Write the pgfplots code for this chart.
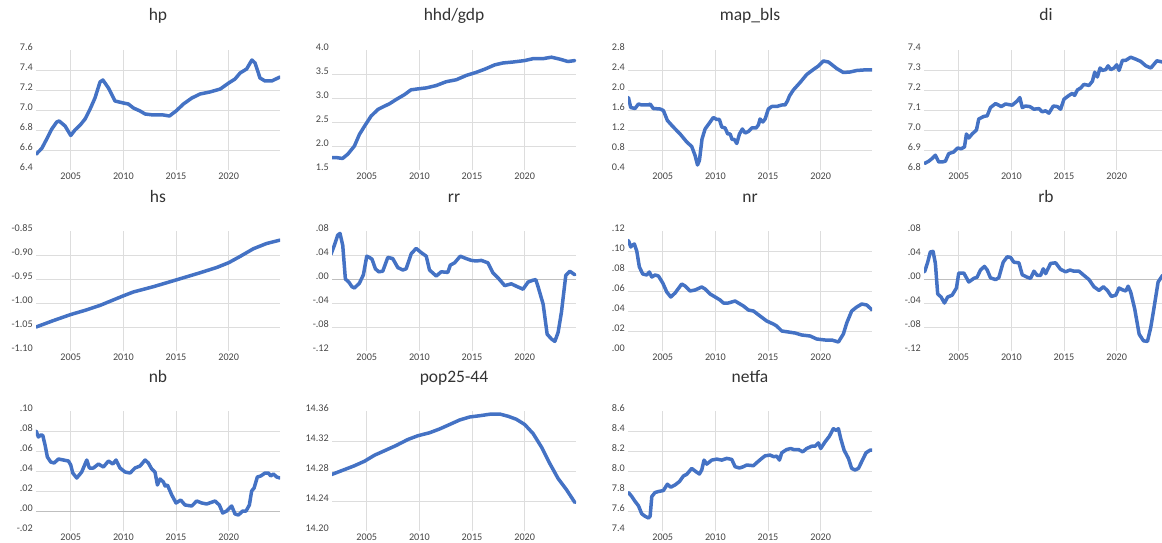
\documentclass[border=0pt]{standalone}
\usepackage{fontspec}
\setmainfont{Carlito}
\usepackage{pgfplots}
\pgfplotsset{compat=1.18}
\definecolor{lineblue}{HTML}{4472C4}
\definecolor{gridgray}{HTML}{DDDDDD}
\definecolor{zerogray}{HTML}{BFBFBF}
\definecolor{txtgray}{HTML}{474747}
\definecolor{titlegray}{HTML}{333333}
\pgfplotsset{
  panel/.style={
    scale only axis, width=244pt, height=120pt,
    xmin=2001.7, xmax=2024.87,
    anchor=north west,
    axis line style={draw=none},
    tick style={draw=none},
    xtick={2005,2010,2015,2020},
    xticklabels={2005,2010,2015,2020},
    xmajorgrids=true, ymajorgrids=false,
    major grid style={draw=gridgray, line width=0.8pt},
    ticklabel style={font=\fontsize{10.2}{12}\selectfont, text=txtgray},
    xticklabel style={inner sep=0pt, anchor=north, yshift=-3pt},
    yticklabel style={inner sep=0pt, anchor=east, xshift=-3pt, yshift=3pt},
    extra y tick labels={},
    extra y tick style={grid=major},
    title style={at={(0.5,1)}, anchor=base, yshift=23pt, font=\fontsize{17.5}{20}\selectfont, text=titlegray},
  },
  ser/.style={draw=lineblue, line width=3.5pt, line join=round, line cap=round, mark=none},
  zl/.style={draw=zerogray, line width=1pt, forget plot},
}
\begin{document}
\begin{tikzpicture}
\useasboundingbox (0,0) rectangle (1162pt,542pt);
% ---------------- row 1
\begin{axis}[panel, at={(36pt,492pt)}, title={hp},
  ymin=6.4, ymax=7.6, ytick={6.4,6.6,6.8,7.0,7.2,7.4,7.6},
  yticklabels={6.4,6.6,6.8,7.0,7.2,7.4,7.6},
  extra y ticks={6.6,6.8,7.0,7.2,7.4}]
\addplot[ser] coordinates {
(2001.71,6.558) (2002.25,6.616) (2002.72,6.71) (2003.2,6.81) (2003.67,6.88) (2003.9,6.89)
(2004.46,6.84) (2005.0,6.745) (2005.4,6.80) (2005.9,6.85) (2006.36,6.91) (2006.84,7.01)
(2007.3,7.12) (2007.78,7.28) (2008.05,7.30) (2008.58,7.22) (2009.2,7.09) (2010.0,7.07)
(2010.47,7.06) (2010.95,7.02) (2011.58,6.99) (2012.06,6.96) (2012.85,6.95) (2013.8,6.95)
(2014.37,6.94) (2015.0,6.99) (2015.7,7.06) (2016.5,7.12) (2017.28,7.16) (2018.2,7.18)
(2019.2,7.21) (2020.0,7.27) (2020.6,7.31) (2021.08,7.37) (2021.7,7.41) (2022.2,7.50)
(2022.5,7.47) (2022.97,7.32) (2023.45,7.29) (2024.08,7.29) (2024.87,7.33)};
\end{axis}
\begin{axis}[panel, at={(332pt,492pt)}, title={hhd/gdp},
  ymin=1.5, ymax=4.0, ytick={1.5,2.0,2.5,3.0,3.5,4.0},
  yticklabels={1.5,2.0,2.5,3.0,3.5,4.0},
  extra y ticks={2.0,2.5,3.0,3.5}]
\addplot[ser] coordinates {
(2001.6,1.757) (2002.08,1.76) (2002.7,1.74) (2003.2,1.83) (2003.83,2.0) (2004.3,2.24)
(2004.78,2.41) (2005.4,2.62) (2006.05,2.76) (2006.68,2.83) (2007.16,2.88) (2007.8,2.97)
(2008.58,3.07) (2009.2,3.17) (2009.85,3.19) (2010.65,3.21) (2011.6,3.26) (2012.55,3.34)
(2013.5,3.38) (2014.45,3.47) (2015.4,3.535) (2016.2,3.60) (2017.15,3.69) (2017.94,3.73)
(2018.9,3.75) (2020.0,3.78) (2020.8,3.82) (2021.75,3.82) (2022.54,3.85) (2023.33,3.81)
(2024.1,3.76) (2024.76,3.78)};
\end{axis}
\begin{axis}[panel, at={(628pt,492pt)}, title={map\_bls},
  ymin=0.4, ymax=2.8, ytick={0.4,0.8,1.2,1.6,2.0,2.4,2.8},
  yticklabels={0.4,0.8,1.2,1.6,2.0,2.4,2.8},
  extra y ticks={0.8,1.2,1.6,2.0,2.4}]
\addplot[ser] coordinates {
(2001.74,1.85) (2001.96,1.65) (2002.37,1.63) (2002.69,1.72) (2003.0,1.70) (2003.64,1.70)
(2003.8,1.72) (2004.1,1.63) (2004.75,1.62) (2005.06,1.59) (2005.44,1.39) (2006.0,1.26)
(2006.65,1.12) (2007.28,0.96) (2007.75,0.87) (2008.07,0.69) (2008.3,0.50) (2008.48,0.59)
(2008.73,1.02) (2009.02,1.22) (2009.5,1.36) (2009.8,1.45) (2010.13,1.41) (2010.38,1.41)
(2010.6,1.26) (2010.92,1.24) (2011.17,1.12) (2011.4,1.12) (2011.58,1.01) (2011.8,1.01)
(2012.03,0.93) (2012.28,1.12) (2012.56,1.22) (2012.82,1.14) (2013.13,1.17) (2013.45,1.24)
(2013.86,1.24) (2014.08,1.30) (2014.24,1.42) (2014.5,1.36) (2014.72,1.42) (2015.03,1.62)
(2015.35,1.67) (2015.82,1.67) (2016.3,1.70) (2016.61,1.70) (2016.84,1.78) (2017.03,1.88)
(2017.4,2.0) (2018.04,2.15) (2018.67,2.31) (2019.3,2.41) (2019.78,2.48) (2020.25,2.58)
(2020.73,2.56) (2021.04,2.51) (2021.52,2.43) (2022.15,2.35) (2022.78,2.36) (2023.42,2.39)
(2024.05,2.40) (2024.87,2.40)};
\end{axis}
\begin{axis}[panel, at={(924pt,492pt)}, title={di},
  ymin=6.8, ymax=7.4, ytick={6.8,6.9,7.0,7.1,7.2,7.3,7.4},
  yticklabels={6.8,6.9,7.0,7.1,7.2,7.3,7.4},
  extra y ticks={6.9,7.0,7.1,7.2,7.3}]
\addplot[ser] coordinates {
(2001.76,6.833) (2002.15,6.844) (2002.46,6.857) (2002.78,6.874) (2003.1,6.84) (2003.41,6.84)
(2003.73,6.844) (2004.05,6.882) (2004.52,6.89) (2004.9,6.91) (2005.22,6.906) (2005.54,6.915)
(2005.73,6.98) (2005.95,6.96) (2006.27,6.98) (2006.68,7.0) (2006.9,7.055) (2007.38,7.068)
(2007.7,7.071) (2008.01,7.112) (2008.49,7.132) (2008.8,7.124) (2009.03,7.117) (2009.44,7.13)
(2010.07,7.124) (2010.55,7.145) (2010.8,7.162) (2011.03,7.112) (2011.34,7.12) (2011.75,7.117)
(2012.14,7.104) (2012.61,7.107) (2012.93,7.091) (2013.25,7.096) (2013.56,7.084) (2013.98,7.12)
(2014.36,7.117) (2014.67,7.104) (2014.99,7.154) (2015.47,7.173) (2015.78,7.183) (2016.0,7.173)
(2016.26,7.2) (2016.57,7.21) (2016.89,7.228) (2017.37,7.223) (2017.69,7.244) (2017.91,7.289)
(2018.16,7.265) (2018.42,7.31) (2018.64,7.298) (2018.95,7.302) (2019.18,7.321) (2019.43,7.302)
(2019.75,7.31) (2020.0,7.326) (2020.22,7.298) (2020.54,7.348) (2020.85,7.348) (2021.33,7.364)
(2021.81,7.354) (2022.28,7.343) (2022.76,7.321) (2023.24,7.31) (2023.81,7.346) (2024.35,7.34)
(2024.87,7.34)};
\end{axis}
% ---------------- row 2
\begin{axis}[panel, at={(36pt,311pt)}, title={hs},
  ymin=-1.10, ymax=-0.85, ytick={-1.10,-1.05,-1.00,-0.95,-0.90,-0.85},
  yticklabels={-1.10,-1.05,-1.00,-0.95,-0.90,-0.85},
  extra y ticks={-1.05,-1.00,-0.95,-0.90}]
\addplot[ser] coordinates {
(2001.71,-1.05) (2003.3,-1.037) (2005.0,-1.024) (2006.4,-1.015) (2007.78,-1.005) (2009.0,-0.994)
(2010.0,-0.985) (2010.95,-0.977) (2012.85,-0.966) (2015.0,-0.952) (2017.28,-0.937)
(2018.86,-0.926) (2020.0,-0.916) (2021.08,-0.903) (2022.34,-0.887) (2023.6,-0.876) (2024.87,-0.869)};
\end{axis}
\begin{axis}[panel, at={(332pt,311pt)}, title={rr},
  ymin=-0.12, ymax=0.08, ytick={-0.12,-0.08,-0.04,0,0.04,0.08},
  yticklabels={-.12,-.08,-.04,.00,.04,.08},
  extra y ticks={-0.08,-0.04,0.04}]
\addplot[zl] coordinates {(2001.7,0) (2024.87,0)};
\addplot[ser] coordinates {
(2001.6,0.041) (2001.92,0.056) (2002.24,0.073) (2002.46,0.076) (2002.72,0.056) (2002.97,0.0)
(2003.29,-0.005) (2003.6,-0.013) (2003.83,-0.015) (2004.3,-0.007) (2004.68,0.007) (2005.0,0.038)
(2005.25,0.036) (2005.5,0.033) (2005.82,0.017) (2006.14,0.012) (2006.52,0.013) (2007.0,0.036)
(2007.47,0.034) (2007.95,0.019) (2008.43,0.015) (2008.74,0.017) (2009.22,0.042) (2009.69,0.051)
(2010.17,0.044) (2010.65,0.038) (2010.96,0.015) (2011.34,0.009) (2011.6,0.005) (2012.07,0.012)
(2012.7,0.011) (2012.93,0.023) (2013.34,0.027) (2013.88,0.038) (2014.45,0.034) (2014.93,0.031)
(2015.4,0.030) (2015.88,0.031) (2016.5,0.027) (2016.99,0.010) (2017.46,0.002) (2018.1,-0.011)
(2018.73,-0.008) (2019.2,-0.012) (2019.84,-0.017) (2020.32,-0.005) (2020.79,-0.002) (2021.05,-0.001)
(2021.27,-0.013) (2021.75,-0.042) (2022.13,-0.092) (2022.54,-0.100) (2022.86,-0.104) (2023.17,-0.089)
(2023.49,-0.055) (2023.9,0.006) (2024.28,0.013) (2024.76,0.007)};
\end{axis}
\begin{axis}[panel, at={(628pt,311pt)}, title={nr},
  ymin=0, ymax=0.12, ytick={0,0.02,0.04,0.06,0.08,0.10,0.12},
  yticklabels={.00,.02,.04,.06,.08,.10,.12},
  extra y ticks={0.02,0.04,0.06,0.08,0.10}]
\addplot[ser] coordinates {
(2001.74,0.1106) (2001.96,0.104) (2002.15,0.106) (2002.3,0.107) (2002.53,0.100) (2002.78,0.084)
(2003.1,0.077) (2003.48,0.076) (2003.73,0.079) (2003.96,0.074) (2004.27,0.076) (2004.59,0.075)
(2005.0,0.068) (2005.38,0.059) (2005.76,0.054) (2006.17,0.058) (2006.8,0.067) (2007.12,0.065)
(2007.59,0.060) (2008.07,0.061) (2008.7,0.064) (2009.02,0.062) (2009.5,0.057) (2010.13,0.053)
(2010.44,0.051) (2010.76,0.048) (2011.23,0.048) (2011.87,0.050) (2012.18,0.048) (2012.66,0.045)
(2013.13,0.041) (2013.61,0.040) (2014.24,0.035) (2014.87,0.030) (2015.5,0.027) (2015.82,0.025)
(2016.3,0.020) (2016.93,0.019) (2017.56,0.018) (2018.2,0.016) (2018.99,0.015) (2019.62,0.012)
(2020.41,0.011) (2021.04,0.011) (2021.68,0.009) (2022.15,0.017) (2022.47,0.028) (2022.94,0.040)
(2023.42,0.044) (2023.9,0.047) (2024.37,0.046) (2024.68,0.043) (2024.87,0.041)};
\end{axis}
\begin{axis}[panel, at={(924pt,311pt)}, title={rb},
  ymin=-0.12, ymax=0.08, ytick={-0.12,-0.08,-0.04,0,0.04,0.08},
  yticklabels={-.12,-.08,-.04,.00,.04,.08},
  extra y ticks={-0.08,-0.04,0.04}]
\addplot[zl] coordinates {(2001.7,0) (2024.87,0)};
\addplot[ser] coordinates {
(2001.76,0.012) (2002.05,0.028) (2002.3,0.045) (2002.56,0.046) (2002.78,0.026) (2003.0,-0.025)
(2003.32,-0.030) (2003.64,-0.040) (2003.95,-0.030) (2004.37,-0.027) (2004.78,-0.015) (2005.0,0.010)
(2005.48,0.010) (2005.95,-0.005) (2006.43,0.001) (2006.74,0.003) (2007.06,0.015) (2007.44,0.021)
(2007.7,0.015) (2008.01,0.002) (2008.49,-0.001) (2008.8,0.002) (2009.22,0.028) (2009.6,0.037)
(2009.92,0.036) (2010.23,0.028) (2010.71,0.027) (2011.03,0.007) (2011.5,0.003) (2011.82,0.001)
(2012.14,0.013) (2012.45,0.006) (2012.77,0.006) (2013.02,0.017) (2013.25,0.009) (2013.72,0.026)
(2014.2,0.027) (2014.67,0.016) (2015.15,0.012) (2015.56,0.015) (2015.94,0.013) (2016.42,0.013)
(2016.89,0.006) (2017.37,-0.001) (2017.84,-0.013) (2018.32,-0.019) (2018.73,-0.013) (2019.11,-0.019)
(2019.49,-0.029) (2019.91,-0.027) (2020.22,-0.015) (2020.54,-0.018) (2020.86,-0.020) (2021.08,-0.012)
(2021.33,-0.022) (2021.71,-0.050) (2022.13,-0.092) (2022.54,-0.103) (2022.92,-0.104) (2023.24,-0.080)
(2023.55,-0.047) (2023.93,-0.005) (2024.35,0.006) (2024.87,0.007)};
\end{axis}
% ---------------- row 3
\begin{axis}[panel, at={(36pt,131pt)}, title={nb},
  ymin=-0.02, ymax=0.10, ytick={-0.02,0,0.02,0.04,0.06,0.08,0.10},
  yticklabels={-.02,.00,.02,.04,.06,.08,.10},
  extra y ticks={0.02,0.04,0.06,0.08}]
\addplot[zl] coordinates {(2001.7,0) (2024.87,0)};
\addplot[ser] coordinates {
(2001.71,0.080) (2001.93,0.074) (2002.15,0.076) (2002.34,0.0757) (2002.56,0.066) (2002.78,0.054)
(2003.1,0.049) (2003.42,0.048) (2003.83,0.052) (2004.3,0.051) (2004.78,0.050) (2005.0,0.046)
(2005.19,0.038) (2005.57,0.033) (2006.04,0.039) (2006.52,0.051) (2006.77,0.043) (2007.15,0.043)
(2007.63,0.047) (2008.1,0.044) (2008.58,0.050) (2009.0,0.047) (2009.3,0.051) (2009.68,0.043)
(2010.16,0.039) (2010.63,0.038) (2011.1,0.043) (2011.58,0.045) (2012.06,0.051) (2012.37,0.048)
(2012.69,0.042) (2013.0,0.039) (2013.23,0.026) (2013.48,0.032) (2013.8,0.029) (2013.96,0.025)
(2014.18,0.026) (2014.59,0.016) (2015.0,0.008) (2015.44,0.011) (2015.85,0.006) (2016.49,0.005)
(2016.96,0.010) (2017.44,0.008) (2017.91,0.007) (2018.7,0.010) (2019.11,0.006) (2019.43,-0.002)
(2019.81,0.000) (2020.28,0.005) (2020.6,-0.003) (2020.92,-0.004) (2021.33,0.000) (2021.65,0.000)
(2021.96,0.006) (2022.18,0.020) (2022.41,0.023) (2022.72,0.034) (2023.04,0.035) (2023.45,0.038)
(2023.77,0.038) (2023.99,0.035) (2024.24,0.037) (2024.56,0.034) (2024.87,0.033)};
\end{axis}
\begin{axis}[panel, at={(332pt,131pt)}, title={pop25-44},
  ymin=14.20, ymax=14.36, ytick={14.20,14.24,14.28,14.32,14.36},
  yticklabels={14.20,14.24,14.28,14.32,14.36},
  extra y ticks={14.24,14.28,14.32}]
\addplot[ser] coordinates {
(2001.6,14.275) (2002.72,14.281) (2003.83,14.287) (2004.78,14.293) (2005.73,14.301) (2006.84,14.308)
(2007.79,14.314) (2008.9,14.322) (2009.85,14.327) (2010.96,14.331) (2011.91,14.336) (2012.87,14.342)
(2013.82,14.348) (2014.77,14.352) (2015.88,14.354) (2016.83,14.356) (2017.62,14.356) (2018.42,14.353)
(2019.2,14.349) (2020.0,14.342) (2020.79,14.330) (2021.59,14.312) (2022.38,14.290) (2023.17,14.270)
(2023.97,14.255) (2024.76,14.238)};
\end{axis}
\begin{axis}[panel, at={(628pt,131pt)}, title={netfa},
  ymin=7.4, ymax=8.6, ytick={7.4,7.6,7.8,8.0,8.2,8.4,8.6},
  yticklabels={7.4,7.6,7.8,8.0,8.2,8.4,8.6},
  extra y ticks={7.6,7.8,8.0,8.2,8.4}]
\addplot[ser] coordinates {
(2001.74,7.785) (2002.06,7.745) (2002.37,7.696) (2002.69,7.653) (2003.0,7.573) (2003.32,7.547)
(2003.64,7.53) (2003.8,7.547) (2003.96,7.745) (2004.27,7.785) (2004.59,7.795) (2005.06,7.805)
(2005.44,7.868) (2005.76,7.838) (2006.17,7.861) (2006.58,7.894) (2006.96,7.95) (2007.28,7.967)
(2007.75,8.026) (2008.16,7.993) (2008.48,7.97) (2008.7,8.01) (2008.92,8.109) (2009.18,8.069)
(2009.65,8.109) (2010.13,8.119) (2010.6,8.109) (2011.08,8.126) (2011.55,8.116) (2011.87,8.043)
(2012.28,8.03) (2012.66,8.043) (2012.97,8.06) (2013.61,8.053) (2013.92,8.083) (2014.4,8.126)
(2014.72,8.152) (2015.19,8.159) (2015.57,8.142) (2015.82,8.149) (2016.08,8.109) (2016.3,8.182)
(2016.77,8.215) (2017.15,8.225) (2017.41,8.215) (2017.88,8.215) (2018.29,8.192) (2018.67,8.225)
(2019.15,8.248) (2019.46,8.248) (2019.78,8.281) (2020.0,8.225) (2020.41,8.291) (2020.82,8.347)
(2021.2,8.423) (2021.46,8.407) (2021.68,8.423) (2021.9,8.324) (2022.22,8.208) (2022.63,8.126)
(2022.94,8.026) (2023.26,8.01) (2023.58,8.026) (2023.89,8.093) (2024.3,8.182) (2024.68,8.208)
(2024.87,8.21)};
\end{axis}
\end{tikzpicture}
\end{document}
